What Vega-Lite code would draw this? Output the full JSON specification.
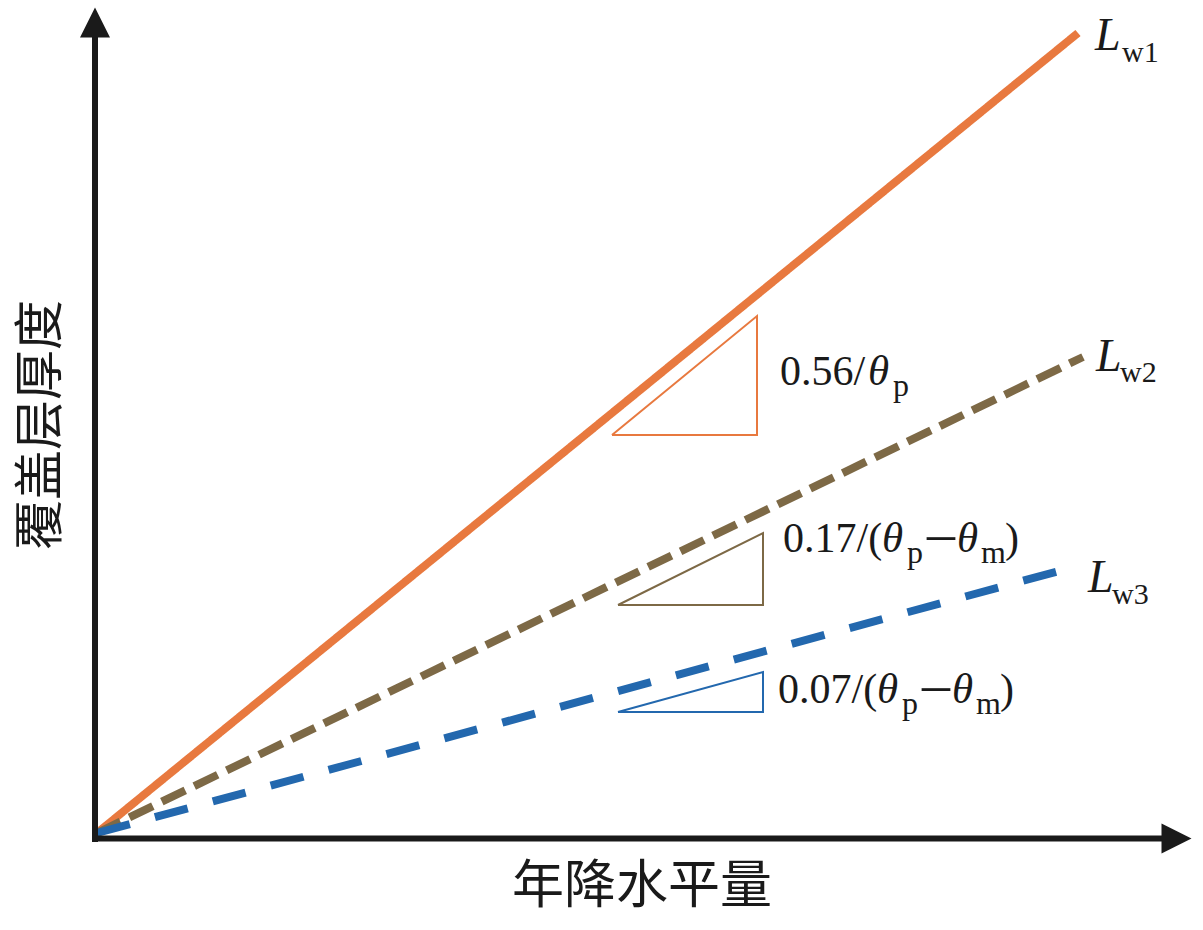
{
  "$schema": "https://vega.github.io/schema/vega-lite/v6.json",
  "width": 1203,
  "height": 930,
  "padding": 0,
  "autosize": {"type": "none"},
  "background": "white",
  "config": {"view": {"stroke": null}},
  "datasets": {
    "lines": [
      {"series": "Lw1", "k": 0, "x": 0, "y": 0},
      {"series": "Lw1", "k": 1, "x": 98.1, "y": 80.0},
      {"series": "Lw2", "k": 0, "x": 0, "y": 0},
      {"series": "Lw2", "k": 1, "x": 98.6, "y": 47.6},
      {"series": "Lw3", "k": 0, "x": 0, "y": 0},
      {"series": "Lw3", "k": 1, "x": 97.3, "y": 26.5}
    ],
    "triangles": [
      {"series": "Lw1", "k": 0, "x": 51.5, "y": 39.8},
      {"series": "Lw1", "k": 1, "x": 66.0, "y": 39.8},
      {"series": "Lw1", "k": 2, "x": 66.0, "y": 51.7},
      {"series": "Lw1", "k": 3, "x": 51.5, "y": 39.8},
      {"series": "Lw2", "k": 0, "x": 52.1, "y": 22.8},
      {"series": "Lw2", "k": 1, "x": 66.6, "y": 22.8},
      {"series": "Lw2", "k": 2, "x": 66.6, "y": 30.0},
      {"series": "Lw2", "k": 3, "x": 52.1, "y": 22.8},
      {"series": "Lw3", "k": 0, "x": 52.1, "y": 12.1},
      {"series": "Lw3", "k": 1, "x": 66.6, "y": 12.1},
      {"series": "Lw3", "k": 2, "x": 66.6, "y": 16.1},
      {"series": "Lw3", "k": 3, "x": 52.1, "y": 12.1}
    ],
    "axes": [
      {"x": -0.2, "y": -0.9, "x2": -0.2, "y2": 79.7},
      {"x": -0.5, "y": -0.55, "x2": 106.8, "y2": -0.55}
    ],
    "arrows": [
      {"dir": "up", "x": -0.2, "y": 81.05},
      {"dir": "right", "x": 107.95, "y": -0.55}
    ],
    "labels": [
      {"role": "Lmain", "t": "L", "x": 99.8, "y": 78.3},
      {"role": "Lsub", "t": "w1", "x": 102.5, "y": 77.1},
      {"role": "Lmain", "t": "L", "x": 99.9, "y": 46.2},
      {"role": "Lsub", "t": "w2", "x": 102.3, "y": 45.1},
      {"role": "Lmain", "t": "L", "x": 99.1, "y": 24.1},
      {"role": "Lsub", "t": "w3", "x": 101.5, "y": 22.9},
      {"role": "main", "t": "0.56/", "x": 68.3, "y": 44.8},
      {"role": "ital", "t": "θ", "x": 77.1, "y": 44.8},
      {"role": "sub", "t": "p", "x": 79.6, "y": 43.7},
      {"role": "main", "t": "0.17/(", "x": 68.6, "y": 28.1},
      {"role": "ital", "t": "θ", "x": 78.5, "y": 28.1},
      {"role": "sub", "t": "p", "x": 81.0, "y": 27.0},
      {"role": "dash", "t": "–", "x": 83.0, "y": 28.1},
      {"role": "ital", "t": "θ", "x": 86.0, "y": 28.1},
      {"role": "sub", "t": "m", "x": 88.4, "y": 27.0},
      {"role": "main", "t": ")", "x": 90.8, "y": 28.1},
      {"role": "main", "t": "0.07/(", "x": 68.1, "y": 13.0},
      {"role": "ital", "t": "θ", "x": 78.0, "y": 13.0},
      {"role": "sub", "t": "p", "x": 80.5, "y": 11.9},
      {"role": "dash", "t": "–", "x": 82.5, "y": 13.0},
      {"role": "ital", "t": "θ", "x": 85.5, "y": 13.0},
      {"role": "sub", "t": "m", "x": 87.9, "y": 11.9},
      {"role": "main", "t": ")", "x": 90.3, "y": 13.0}
    ],
    "titles": [
      {"axis": "x", "t": "年降水平量", "x": 54.5, "y": -5.4},
      {"axis": "y", "t": "覆盖层厚度", "x": -5.5, "y": 40.8}
    ]
  },
  "encoding": {
    "x": {"field": "x", "type": "quantitative", "axis": null, "scale": {"domain": [-9.7, 110.6], "nice": false, "zero": false}},
    "y": {"field": "y", "type": "quantitative", "axis": null, "scale": {"domain": [-9.7, 83.3], "nice": false, "zero": false}}
  },
  "layer": [
    {
      "data": {"name": "triangles"},
      "mark": {"type": "line", "strokeWidth": 2, "strokeJoin": "miter"},
      "encoding": {
        "detail": {"field": "series"},
        "order": {"field": "k", "type": "quantitative"},
        "color": {"field": "series", "type": "nominal", "legend": null, "scale": {"domain": ["Lw1", "Lw2", "Lw3"], "range": ["#E8793F", "#7D6946", "#2368AE"]}}
      }
    },
    {
      "data": {"name": "lines"},
      "mark": {"type": "line", "strokeCap": "butt"},
      "encoding": {
        "detail": {"field": "series"},
        "order": {"field": "k", "type": "quantitative"},
        "color": {"field": "series", "type": "nominal", "legend": null, "scale": {"domain": ["Lw1", "Lw2", "Lw3"], "range": ["#E8793F", "#7D6946", "#2368AE"]}},
        "strokeWidth": {"field": "series", "type": "nominal", "legend": null, "scale": {"domain": ["Lw1", "Lw2", "Lw3"], "range": [8, 8, 9.5]}},
        "strokeDash": {"field": "series", "type": "nominal", "legend": null, "scale": {"domain": ["Lw1", "Lw2", "Lw3"], "range": [[1, 0], [26, 10], [34, 26]]}}
      }
    },
    {
      "data": {"name": "axes"},
      "mark": {"type": "rule", "strokeWidth": 6, "color": "#1a1a1a", "strokeCap": "butt"},
      "encoding": {
        "x2": {"field": "x2"},
        "y2": {"field": "y2"}
      }
    },
    {
      "data": {"name": "arrows"},
      "mark": {"type": "point", "filled": true, "size": 900, "opacity": 1, "color": "#1a1a1a", "strokeWidth": 0},
      "encoding": {
        "shape": {"field": "dir", "type": "nominal", "legend": null, "scale": {"domain": ["up", "right"], "range": ["M0,-1L1,1L-1,1Z", "M1,0L-1,-1L-1,1Z"]}}
      }
    },
    {
      "data": {"name": "labels"},
      "transform": [{"filter": "datum.role === 'Lmain'"}],
      "mark": {"type": "text", "font": "Liberation Serif", "fontSize": 46, "fontStyle": "italic", "align": "left", "baseline": "alphabetic", "color": "#1a1a1a"},
      "encoding": {"text": {"field": "t"}}
    },
    {
      "data": {"name": "labels"},
      "transform": [{"filter": "datum.role === 'Lsub'"}],
      "mark": {"type": "text", "font": "Liberation Serif", "fontSize": 30, "align": "left", "baseline": "alphabetic", "color": "#1a1a1a"},
      "encoding": {"text": {"field": "t"}}
    },
    {
      "data": {"name": "labels"},
      "transform": [{"filter": "datum.role === 'main'"}],
      "mark": {"type": "text", "font": "Liberation Serif", "fontSize": 42, "align": "left", "baseline": "alphabetic", "color": "#1a1a1a"},
      "encoding": {"text": {"field": "t"}}
    },
    {
      "data": {"name": "labels"},
      "transform": [{"filter": "datum.role === 'dash'"}],
      "mark": {"type": "text", "font": "Liberation Serif", "fontSize": 56, "align": "left", "baseline": "alphabetic", "color": "#1a1a1a"},
      "encoding": {"text": {"field": "t"}}
    },
    {
      "data": {"name": "labels"},
      "transform": [{"filter": "datum.role === 'ital'"}],
      "mark": {"type": "text", "font": "Liberation Serif", "fontSize": 43, "fontStyle": "italic", "align": "left", "baseline": "alphabetic", "color": "#1a1a1a"},
      "encoding": {"text": {"field": "t"}}
    },
    {
      "data": {"name": "labels"},
      "transform": [{"filter": "datum.role === 'sub'"}],
      "mark": {"type": "text", "font": "Liberation Serif", "fontSize": 32, "align": "left", "baseline": "alphabetic", "color": "#1a1a1a"},
      "encoding": {"text": {"field": "t"}}
    },
    {
      "data": {"name": "titles"},
      "transform": [{"filter": "datum.axis === 'x'"}],
      "mark": {"type": "text", "font": "Noto Sans CJK SC", "fontSize": 52, "align": "center", "baseline": "middle", "color": "#1a1a1a"},
      "encoding": {"text": {"field": "t"}}
    },
    {
      "data": {"name": "titles"},
      "transform": [{"filter": "datum.axis === 'y'"}],
      "mark": {"type": "text", "font": "Noto Sans CJK SC", "fontSize": 50, "angle": 270, "align": "center", "baseline": "middle", "color": "#1a1a1a"},
      "encoding": {"text": {"field": "t"}}
    }
  ]
}
